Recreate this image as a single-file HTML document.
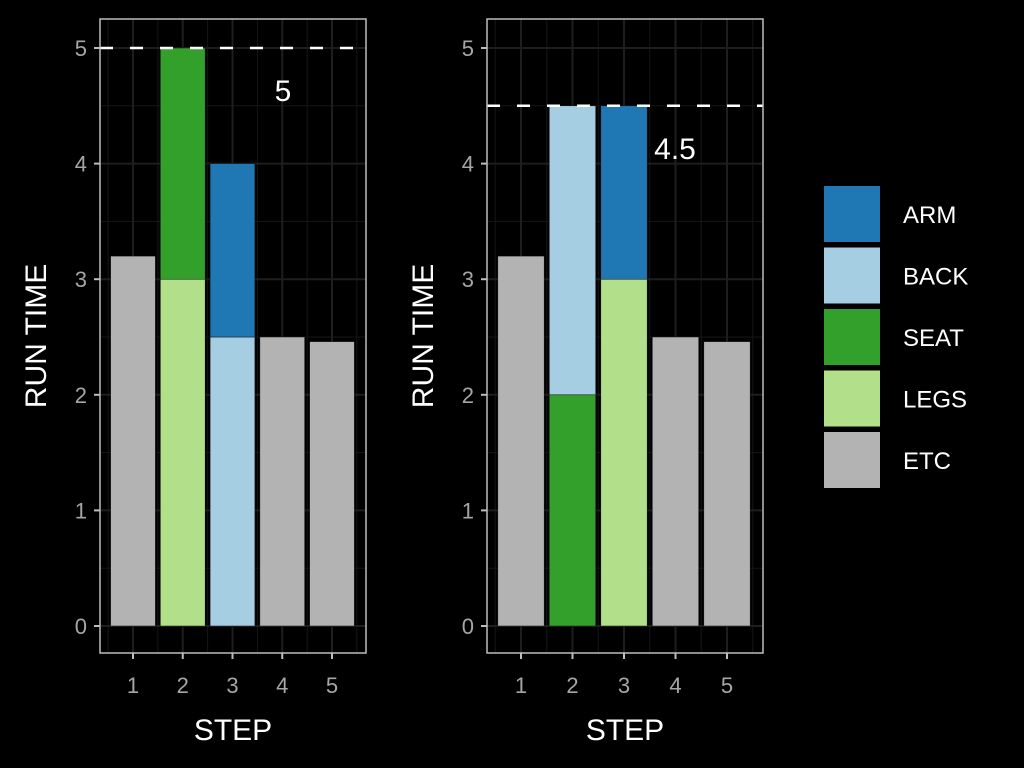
<!DOCTYPE html>
<html><head><meta charset="utf-8">
<style>
html,body{margin:0;padding:0;background:#000;}
svg{display:block;font-family:"Liberation Sans",Arial,sans-serif;}
</style></head>
<body>
<svg id="chart" width="1024" height="768" viewBox="0 0 1024 768"></svg>
<script>
const steps = [1,2,3,4,5];
const yTicks = [0,1,2,3,4,5];
const categories = ["ARM","BACK","SEAT","LEGS","ETC"];
const colors = {ARM:"#1f78b4",BACK:"#a6cee3",SEAT:"#33a02c",LEGS:"#b2df8a",ETC:"#b3b3b3"};
// stacks: [step, category, value] bottom to top
const panel1Stacks = [[1,"ETC",3.2],[2,"LEGS",3],[2,"SEAT",2],[3,"BACK",2.5],[3,"ARM",1.5],[4,"ETC",2.5],[5,"ETC",2.46]];
const panel2Stacks = [[1,"ETC",3.2],[2,"SEAT",2],[2,"BACK",2.5],[3,"LEGS",3],[3,"ARM",1.5],[4,"ETC",2.5],[5,"ETC",2.46]];
const panel1Max = 5;
const panel2Max = 4.5;

const NS="http://www.w3.org/2000/svg";
const svg=document.getElementById('chart');
function mk(tag,attrs,parent){const e=document.createElementNS(NS,tag);for(const k in attrs)e.setAttribute(k,attrs[k]);(parent||svg).appendChild(e);return e;}

function panel(name,left,right,x1,spacing,stacks,maxVal,labelX){
  const g=mk('g',{});
  
  
  const top=19,bottom=653;
  const y=v=>626-v*115.6;
  const x=s=>x1+(s-1)*spacing;
  // minor grid
  for(let v=-0.5;v<=5.5;v+=1){const yy=y(v);if(yy>top&&yy<bottom)mk('line',{x1:left,x2:right,y1:yy,y2:yy,stroke:'#161616','stroke-width':1},g);}
  for(let s=0.5;s<=5.5;s+=1){const xx=x(s);if(xx>left&&xx<right)mk('line',{x1:xx,x2:xx,y1:top,y2:bottom,stroke:'#161616','stroke-width':1},g);}
  yTicks.forEach(v=>{mk('line',{x1:left,x2:right,y1:y(v),y2:y(v),stroke:'#1e1e1e','stroke-width':2},g);});
  steps.forEach(s=>{mk('line',{x1:x(s),x2:x(s),y1:top,y2:bottom,stroke:'#1e1e1e','stroke-width':2},g);});
  // bars
  const base={};
  stacks.forEach(([s,c,v])=>{
    const b=base[s]||0;
    const r=mk('rect',{x:x(s)-spacing*0.45,width:spacing*0.9,y:y(b+v),height:y(b)-y(b+v),fill:colors[c],stroke:'#111','stroke-width':0.5},g);
    
    
    base[s]=b+v;
  });
  // dashed line
  const d=mk('line',{x1:left,x2:right,y1:y(maxVal),y2:y(maxVal),stroke:'#fff','stroke-width':2.5,'stroke-dasharray':'13,17'},g);
  
  
  const t=mk('text',{x:labelX,y:y(maxVal)+53,fill:'#fff','font-size':30,'text-anchor':'middle'},g);
  t.textContent=String(maxVal);
  
  
  // border
  mk('rect',{x:left,y:top,width:right-left,height:bottom-top,fill:'none',stroke:'#bdbdbd','stroke-width':1.5},g);
  // y ticks
  yTicks.forEach(v=>{
    mk('line',{x1:left-6,x2:left,y1:y(v),y2:y(v),stroke:'#bdbdbd','stroke-width':2},g);
    const tl=mk('text',{x:left-13,y:y(v)+8,fill:'#a6a6a6','font-size':22,'text-anchor':'end'},g);
    tl.textContent=v;
    
    
  });
  steps.forEach(s=>{
    mk('line',{x1:x(s),x2:x(s),y1:bottom,y2:bottom+6,stroke:'#bdbdbd','stroke-width':2},g);
    const tl=mk('text',{x:x(s),y:bottom+40,fill:'#a6a6a6','font-size':22,'text-anchor':'middle'},g);
    tl.textContent=s;
    
    
  });
  const xt=mk('text',{x:(left+right)/2,y:740,fill:'#fff','font-size':30,'text-anchor':'middle'},g);
  xt.textContent='STEP';
  
  
  const yt=mk('text',{x:0,y:0,fill:'#fff','font-size':30,'text-anchor':'middle',transform:`translate(${left-54},336) rotate(-90)`},g);
  yt.textContent='RUN TIME';
  
  
}
panel('panel-left',100,366,133,49.75,panel1Stacks,panel1Max,283);
panel('panel-right',487,763,521,51.5,panel2Stacks,panel2Max,675);

// legend
const lg=mk('g',{});


categories.forEach((c,i)=>{
  const yy=186+i*61.5;
  const r=mk('rect',{x:824,y:yy,width:56,height:56,fill:colors[c]},lg);
  
  
  const t=mk('text',{x:903,y:yy+37,fill:'#fff','font-size':24},lg);
  t.textContent=c;
  
  
});
</script>
</body></html>
